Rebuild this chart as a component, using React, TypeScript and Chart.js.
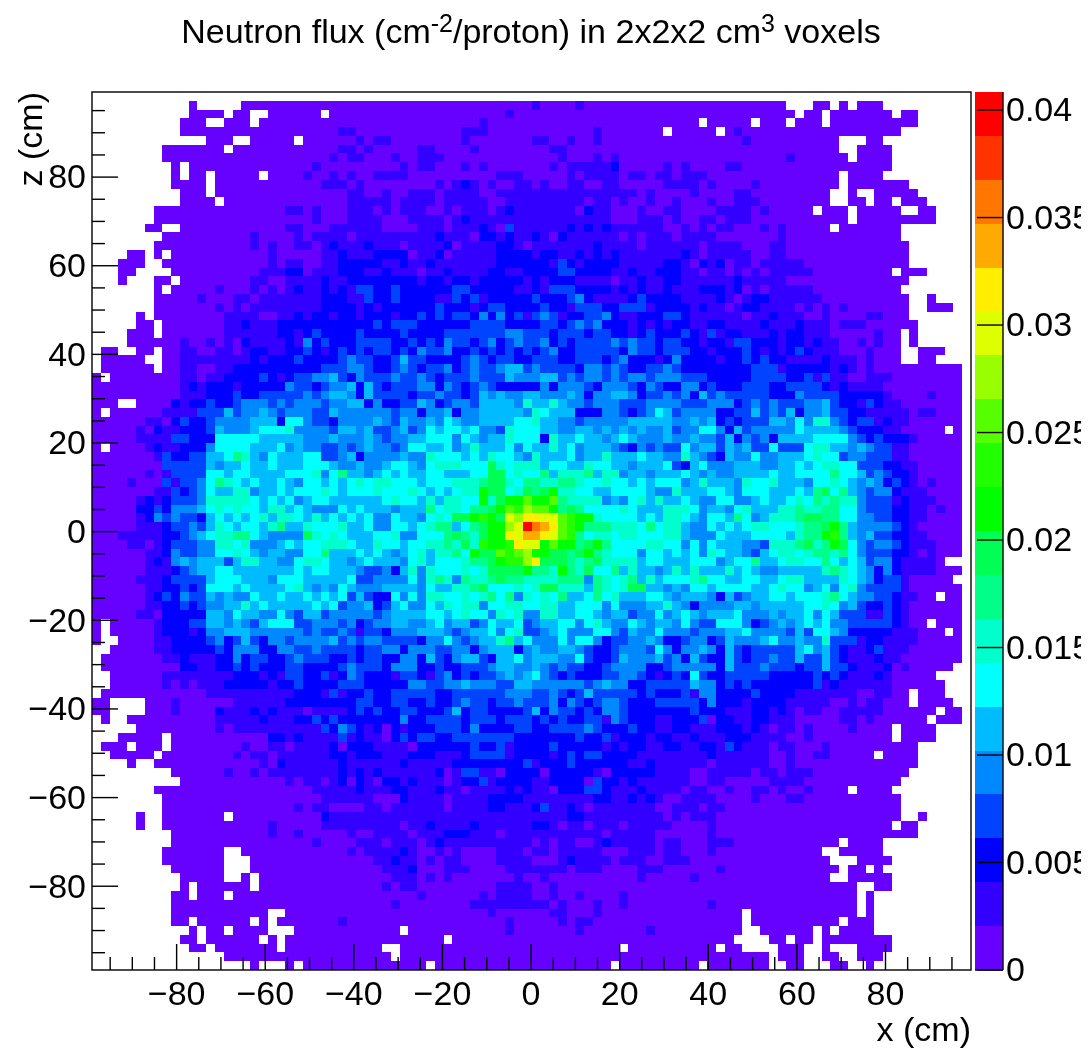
import React, { useEffect, useRef } from "react";
import { Chart, registerables } from "chart.js";

Chart.register(...registerables);

// Band code per voxel: "." = empty voxel, 0-9 then a-j = colour band from the bottom.
const fluxColsLeft = [
".................................",
"...........0.....0000000000000000",
"...........0000.00..000000.000000",
"..........000..000.00000000000000",
"..........00000000000000000011000",
".............000..00000.000000101",
"........0000000.00000000000011010",
"........0000000000000000000101100",
".........0.00000000000000" + "1" + "0000000",
".........0.00.00000.0000" + "100101001",
".........0000.0000000000001110100",
"..........000.000000000000000" + "1100",
"..........0000.000000000000001111",
".......00000000000000011010001110",
".......000000000000000000" + "10001111",
"......00..00000000000011000111111",
"........0000000000" + "100001011110111",
".......00000000000101001101211121",
"....00.0.00000000000" + "1000001121112",
"...000..000000000000" + "1011001122222",
"...00....0000000000" + "11122011122211",
"...0...00.00000000" + "110011112112222",
".......0.00000" + "1000101012112121332",
".......00000" + "100011011111112221132",
".......00000001010111111112222121",
".....0.00000000" + "111100112122122122",
".....00.0000000" + "112111" + "22222222222" + "3",
"....000.0000000" + "111111" + "22" + "1" + "2" + "3" + "2222" + "3" + "22",
"....000000" + "10010102" + "1111" + "21" + "42" + "3" + "222" + "333",
".00..00.00" + "1100110" + "1" + "22" + "11" + "22" + "3" + "2" + "1" + "2" + "3" + "2" + "3" + "2" + "3",
".00000..00" + "11111111" + "2" + "1" + "222" + "3" + "2222" + "3" + "4" + "33" + "2",
".000000.00" + "11" + "00" + "11" + "2222222222" + "333" + "44" + "3" + "2",
"0.00000000" + "11" + "0" + "11" + "2222" + "3" + "2" + "1" + "2" + "33" + "44" + "5" + "3" + "2" + "4" + "33",
"0000000000" + "1" + "2" + "1" + "222" + "1" + "22222" + "4" + "33" + "2" + "3" + "44" + "5" + "2" + "5" + "3",
"0000000000" + "111" + "222" + "3" + "22" + "33333" + "4" + "3" + "4" + "55" + "4" + "2" + "5" + "3",
"000..0000" + "2" + "1" + "22" + "3" + "22" + "3" + "444" + "3" + "4" + "3" + "444" + "3" + "44" + "55" + "2" + "4",
"0.000000" + "1111" + "333" + "5" + "3" + "44" + "5" + "4" + "3" + "444" + "33" + "5" + "44444",
"000000" + "11" + "0" + "2" + "3" + "22" + "3" + "4444" + "555" + "2" + "66" + "4" + "33" + "2" + "4444" + "5",
"00000" + "1" + "0" + "2" + "11" + "222" + "3" + "5" + "444" + "5" + "666" + "7" + "4444" + "3" + "55" + "4" + "5" + "3",
"00000" + "1111" + "33" + "222" + "66666" + "55555" + "444" + "5" + "444" + "5" + "4",
"0.0000" + "1" + "2" + "11" + "222" + "4" + "6666" + "555" + "6" + "4" + "5" + "44" + "33" + "4" + "3" + "4" + "5" + "4",
"0000000" + "1" + "3" + "22" + "33" + "55" + "6" + "8" + "7" + "5" + "4" + "6" + "555" + "66" + "33" + "4" + "5" + "2" + "44",
"00000000" + "33333" + "5" + "4" + "55" + "6" + "55" + "6" + "555" + "666" + "5" + "44" + "5" + "44",
"000000" + "1" + "0" + "1" + "3333" + "66" + "5" + "66" + "5555" + "666" + "7" + "4" + "6" + "8" + "55" + "4" + "5",
"0000" + "1" + "000" + "3" + "1" + "33" + "4" + "6" + "8" + "7" + "6" + "5" + "6" + "55" + "6" + "5" + "4" + "66" + "5" + "6" + "5" + "6" + "7" + "6" + "7",
"0000000" + "11" + "3" + "2" + "3" + "4" + "6" + "55" + "77" + "4" + "55" + "6" + "5" + "666" + "7" + "6" + "5" + "666" + "7",
"00000" + "1" + "2" + "1" + "2" + "333" + "4" + "77777" + "6" + "5" + "6" + "5" + "6" + "4" + "5" + "66" + "555555",
"00000" + "22" + "3" + "2" + "444" + "5" + "6" + "7" + "6" + "7" + "66" + "5" + "77" + "5" + "6" + "5" + "444" + "6" + "5" + "6" + "55",
"00000" + "1" + "2" + "4" + "3" + "4" + "33" + "2" + "5" + "6" + "5" + "6" + "5" + "6" + "7" + "5" + "77" + "6" + "5" + "7" + "5" + "6" + "5" + "6" + "5" + "6" + "4",
"00000" + "111" + "2" + "33" + "4" + "3" + "5" + "7" + "6" + "5" + "66" + "5" + "7" + "8" + "55" + "7" + "666" + "7" + "55" + "6" + "4",
"000" + "1111" + "1" + "22" + "3" + "4" + "5" + "6" + "77" + "88" + "6" + "5" + "4444" + "9" + "7" + "6" + "7" + "6" + "555" + "6",
"0000" + "11" + "0" + "1" + "2" + "333" + "44" + "77" + "6" + "7" + "444" + "5" + "6" + "5" + "66" + "777" + "6" + "55" + "7",
"000000" + "11" + "2" + "4" + "33" + "44" + "66" + "7" + "6" + "5" + "4" + "55" + "44" + "66" + "8" + "555" + "6" + "5" + "6",
"000000" + "1" + "2" + "1" + "4" + "5" + "4" + "555" + "3" + "5" + "77" + "55" + "44" + "6" + "77" + "6" + "55" + "4" + "5" + "6" + "5",
"000000" + "111" + "2" + "3" + "4" + "55" + "66" + "5555555" + "6" + "5" + "66" + "555" + "4" + "33",
"00000" + "111" + "2" + "3333" + "5" + "666" + "555" + "4" + "666" + "55555" + "6" + "33" + "4",
"000000" + "11" + "22" + "3" + "2" + "3" + "666" + "5" + "6" + "5555" + "6" + "7" + "5" + "4" + "5" + "4" + "6" + "5" + "444",
"000000" + "1" + "2" + "3" + "2" + "4" + "33" + "5" + "4" + "5" + "44" + "6" + "55" + "6" + "55" + "6" + "5" + "6" + "5" + "6" + "3" + "5" + "3" + "2",
"000000" + "11" + "22" + "3" + "2" + "3" + "44" + "55" + "7" + "5" + "6" + "55555" + "6" + "5" + "6" + "3" + "44" + "5" + "2",
"00000" + "11" + "0" + "22222" + "55" + "4" + "6" + "55" + "44" + "6" + "4" + "3" + "55" + "3" + "44444" + "3",
"0.00000" + "1" + "222" + "33" + "55" + "4" + "5" + "4" + "3" + "5" + "666" + "33" + "444" + "3" + "4" + "2" + "3" + "4",
"0.00000" + "1" + "222" + "1" + "2" + "44" + "555" + "444444" + "3" + "4" + "33" + "4" + "3" + "1" + "33",
"0..0000" + "11" + "2222" + "3" + "4" + "2" + "3" + "5" + "3" + "2" + "44" + "3" + "4444" + "5" + "3" + "4" + "3" + "44",
"..00000" + "11" + "22222" + "3" + "2" + "444" + "22" + "44" + "33" + "4" + "3333" + "2" + "33",
".0000000" + "11" + "2" + "111" + "22" + "4" + "2" + "33" + "22" + "3" + "4" + "333" + "22" + "3" + "2" + "33",
".000000000" + "22" + "11" + "22" + "3" + "2" + "3" + "222" + "33" + "2222" + "3" + "4" + "333",
"..000000" + "11111111" + "22" + "2" + "1" + "2" + "1" + "33" + "22" + "3" + "1" + "2" + "4" + "3" + "22",
"..000000" + "1" + "0" + "1" + "0" + "111" + "22222" + "1" + "22" + "3" + "2222" + "333" + "22",
".000000000000" + "1111111111" + "222" + "1" + "3" + "1" + "22" + "3" + "2",
"00....000" + "1" + "000000" + "111111" + "22222222" + "33" + "2",
"00....000" + "1" + "0000" + "2" + "111" + "2" + "1" + "2" + "111" + "0" + "1" + "111" + "2" + "3" + "2" + "3",
".0..0000000000" + "11111" + "2" + "111" + "22" + "3" + "2" + "3" + "22222",
".....000000000" + "1" + "0" + "1111111111" + "3" + "2" + "4" + "3" + "2" + "1" + "2",
"...00000.00000000000" + "22" + "1" + "2" + "111" + "1" + "3" + "1" + "2" + "11",
".000.000.00000000" + "1" + "00" + "11" + "0" + "1111" + "2" + "0" + "222" + "1",
"..00000.00000000" + "1" + "0" + "11" + "0" + "111111" + "22" + "1" + "222",
"....0..000000000000" + "1" + "0" + "2" + "111111" + "2" + "1111",
".........000000" + "1" + "00" + "1" + "0" + "11111111" + "2" + "1" + "2" + "1" + "2",
"..........000000000000" + "1" + "0" + "11" + "0" + "1" + "2" + "0" + "2" + "1" + "0",
".......000000000000000000" + "11111" + "2" + "11",
"........000000000000000000" + "111111" + "0",
"........000000000000000" + "1" + "0" + "11" + "0000" + "11",
".....0..0000000.0000000000" + "2" + "111111",
".....0..000000000000" + "1" + "00000" + "1111111",
".........00000000000" + "1" + "00" + "1" + "00000" + "1" + "00" + "1",
".........0000000000000000" + "1" + "0000" + "111",
"........0000000..000000000000" + "1" + "0" + "11",
"........0000000...00000000000000" + "1",
".........000000...000000000000000",
"..........00000..0.00000000000000",
"..........0.000000.00000000000000",
".........00.000.00000000000000000",
".........000000000000000000000000",
".........00000000000..00000000000",
".........00.000000.0.0000000" + "1" + "0000",
"...........0.00.0000...0000000000",
"..........00.000000.0.00000000000",
"...........00.0000000.00000000000",
"...............000000000000000000",
"..................0...0.000000000",
];

const fluxColsMiddle = [
"..................................",
"00000000000000000" + "1" + "0000" + "1" + "00000000000",
"00000000000000" + "1" + "0000000000000000000",
"00000000000" + "1" + "0000000000000000000000",
"000000000" + "111" + "000000000000" + "1" + "0000000" + "." + "0",
"1" + "00000000" + "1" + "0000000" + "11" + "00" + "1" + "00" + "1" + "000000000",
"0000" + "11" + "0000" + "1" + "00000000" + "11" + "0000000000000",
"0" + "1" + "00" + "111" + "0000000000000" + "1" + "000" + "1" + "0" + "1" + "0000000",
"00" + "1" + "0" + "11" + "000" + "1" + "0" + "1" + "0000000" + "1" + "0" + "11111" + "2" + "00000" + "1" + "0",
"111" + "0000000000" + "111" + "00000" + "1" + "0" + "1111" + "0" + "11" + "0" + "11" + "0",
"000000" + "1" + "0" + "1" + "2" + "1" + "0" + "1" + "00" + "11" + "0" + "1" + "00" + "11" + "00" + "11" + "00000" + "11",
"1" + "00" + "111" + "0" + "1111" + "00" + "1111111111111111" + "0" + "1" + "000",
"1" + "0" + "1111" + "0" + "11111" + "00" + "111111111" + "0" + "11" + "0" + "1" + "00" + "1" + "00" + "1",
"1" + "0" + "111" + "00" + "1" + "0" + "111" + "0" + "1" + "2" + "1111111" + "0" + "2" + "11" + "000" + "1" + "00" + "11",
"000" + "1111" + "0" + "1" + "2" + "1111111111111111" + "000" + "111" + "0" + "1",
"0000" + "111" + "0" + "111" + "2" + "1" + "0" + "3" + "1111" + "11" + "2" + "1" + "2" + "1" + "2" + "111111" + "00",
"111111" + "2" + "111" + "0" + "22" + "1" + "2" + "11" + "2" + "1" + "0" + "2" + "111111" + "0" + "1" + "0" + "111" + "0",
"11" + "0" + "1111" + "2" + "0" + "1111" + "22" + "1" + "0" + "1111111" + "2" + "1111" + "0" + "1111",
"222" + "0" + "11" + "2" + "0" + "11111" + "2222" + "1" + "22" + "11" + "2" + "1" + "2" + "1" + "2" + "1111111",
"11" + "2" + "11" + "2" + "1111111" + "222222" + "1" + "3" + "2" + "1" + "2222" + "11111" + "22",
"2" + "111" + "0" + "11" + "2" + "1111" + "22" + "11" + "2222" + "33" + "2222" + "11" + "2" + "11" + "222",
"2222" + "1" + "22" + "1" + "22" + "1" + "22222" + "1" + "2" + "1" + "222" + "1111" + "0" + "11" + "2" + "11" + "22",
"2" + "3" + "222222" + "33" + "22222" + "11" + "2" + "1" + "333" + "2222" + "1" + "2" + "1" + "2" + "11" + "2" + "1",
"2" + "3" + "2222" + "11" + "3" + "2" + "3" + "1" + "22222" + "3" + "222" + "3" + "4" + "2" + "1111" + "2" + "3" + "2222",
"222222" + "3" + "222" + "1" + "2" + "33" + "2222" + "3" + "22" + "1" + "333" + "22" + "333" + "1" + "222",
"2" + "1" + "22" + "3" + "2" + "3" + "2" + "33" + "2" + "4" + "2" + "4" + "2" + "3" + "1" + "3" + "4" + "3" + "1" + "22" + "33" + "4" + "2" + "11" + "222" + "33",
"2" + "333" + "222222" + "3333" + "2222" + "33" + "2" + "3" + "4" + "3" + "4" + "222" + "1" + "2" + "1" + "2" + "1" + "2",
"22" + "3" + "2222" + "3333333" + "44" + "333" + "2" + "333" + "2" + "33" + "22" + "1" + "2" + "3" + "222",
"3" + "22" + "3" + "2" + "3" + "2" + "4" + "33" + "2" + "3" + "4" + "2" + "3" + "4" + "33" + "4" + "2" + "3" + "2" + "3333" + "4" + "3" + "4" + "33" + "2" + "33",
"3" + "2" + "3" + "2" + "4" + "33" + "4" + "22" + "3" + "2" + "3" + "2" + "3" + "2" + "3" + "2" + "3" + "4" + "22" + "33333" + "2" + "4" + "33" + "2" + "33",
"2" + "3" + "5" + "33" + "2222" + "3" + "4" + "3" + "2" + "33" + "22" + "333" + "22" + "333" + "2" + "3" + "4" + "222" + "1" + "2" + "4",
"2" + "3" + "4" + "3" + "2" + "33" + "4" + "2" + "3" + "4" + "33" + "4" + "55" + "3" + "4" + "3333" + "2" + "44" + "3" + "4" + "3" + "22" + "33" + "4" + "3",
"3" + "4" + "33" + "4" + "3" + "2" + "333" + "4" + "333" + "5" + "444" + "55" + "3" + "4" + "3" + "44" + "3" + "4" + "3" + "44" + "3" + "444",
"2333442432"+"3432222242"+"4443244432"+"4322",
"3332334332"+"3545445544"+"4542445542"+"3343",
"2233542344"+"3555547557"+"5443444333"+"4444",
"4344244524"+"4555554765"+"5522244323"+"4653",
"4354454654"+"4555566755"+"4434444455"+"5554",
"3453465665"+"6443766655"+"4455454545"+"4453",
"3445566646"+"5455766627"+"5565545654"+"4454",
"4346655645"+"7555646557"+"5645554324"+"3433",
"4454476665"+"6576654755"+"5645575556"+"5544",
"5665467776"+"6697677756"+"6557665545"+"5563",
"6565566555"+"6699676685"+"7778577455"+"4555",
"7666566677"+"7899768877"+"8876676656"+"5666",
"6667656567"+"7a9967989a"+"7766556666"+"5447",
"6766575776"+"6a79aacaac"+"8777745467"+"5755",
"5455586776"+"889acbdcca"+"8986666765"+"5577",
"4655467699"+"aba9edffee"+"cbaa766665"+"6577",
"4665678856"+"89aadejhgf"+"cba8887776"+"8677",
"6744666898"+"79aafeggfe"+"cb86776776"+"6677",
"6656677879"+"7baabfeeac"+"aa89a86666"+"7766",
"5456757786"+"a99cbcdaa9"+"989a876664"+"6656",
"5546756667"+"889abbdf99"+"9878977775"+"6655",
"4257476667"+"679999a887"+"a879668575"+"5457",
"4446478748"+"7789887777"+"8884876785"+"7566",
"5555465577"+"8966676799"+"7775876799"+"5545",
"2646477667"+"6786847676"+"8556867555"+"6654",
"3564465767"+"7466776677"+"5566646444"+"5575",
"4555566567"+"6647674477"+"5566545534"+"4645",
"4554456455"+"3465563455"+"6646754465"+"4554",
"2444555434"+"5564673345"+"6444664354"+"4644",
"3333244643"+"4557856444"+"6466423344"+"5422",
"4424443344"+"2455524544"+"5543223444"+"3642",
"2244253245"+"5325564555"+"4463223544"+"4534",
"2444223223"+"3345544543"+"4332234444"+"2234",
"2133213423"+"2334545643"+"2322233443"+"2123",
"2224433445"+"4443355444"+"4443454422"+"3333",
"2333332233"+"3333444334"+"3235333332"+"3222",
"2332232234"+"3323343334"+"2432344322"+"2333",
"2233222352"+"3322223524"+"3323244322"+"2222",
"2242233332"+"3332333232"+"3223314322"+"2112",
"0212223332"+"4222233223"+"3334322232"+"2112",
"0232332233"+"3333322222"+"2232231222"+"1221",
"1110222222"+"3223122223"+"2222212122"+"1122",
"1112221112"+"3333122221"+"2323322221"+"1111",
"1121111122"+"2222223122"+"2322222211"+"2111",
"1111112013"+"3110222202"+"2222102222"+"2111",
"2212111012"+"2312222112"+"2220322121"+"1111",
"1221112110"+"1111212110"+"2223321112"+"1111",
"0021111011"+"1122221111"+"1111221121"+"2100",
"0111111011"+"1122111231"+"1210111111"+"1001",
"1111111111"+"1111111111"+"1221111111"+"1101",
"1101121111"+"2111111221"+"0110111011"+"1110",
"1110111222"+"1110111111"+"1111101111"+"1000",
"0111012111"+"1111111010"+"1100121111"+"1011",
"1121001010"+"0001110110"+"1111100011"+"1011",
"1211010110"+"0001111000"+"1211110111"+"0011",
"1112000111"+"0000111111"+"1011100001"+"1100",
"0111010100"+"0000010010"+"0000000001"+"0000",
"1011000000"+"0001111001"+"0000000000"+"0000",
"0000100000"+"0101111001"+"0010000100"+"0000",
"0100000000"+"1111111110"+"1000100100"+"0000",
"0000000000"+"0010000001"+"1000100000"+"0000",
"0000000000"+"0000100000"+"1011000000"+"0000",
"00.0000000"+"0000100000"+"0010000000"+"1000",
"0000000.00"+"0000000000"+"0000000000"+"0000",
"..00000000"+"0000000000"+"0000000.00"+"0000",
"0.00000000"+"0000000000"+"0000000000"+"0000",
"00000.0000"+"0000000000"+"000000.000"+"0000",
];

const fluxColsRight = [
".................................",
"000000000000" + "..." + "00" + "." + "0" + "." + "000" + "..........",
"0000000000000.00.0000000.00......",
"00.00000.000.000.0000000000......",
"0000.01" + "000000000000000000" + "........",
"0000000" + "1" + "0000000000" + "..." + "00" + "..........",
"000000000000000000" + ".." + "0000" + ".........",
"000000000000" + "1" + "000000" + "." + "0000" + ".........",
"1" + "0000" + "11" + "00000000000000000" + ".........",
"111" + "000000000000000" + "." + "0000" + "..........",
"11" + "0" + "1" + "0000" + "1" + "000000000" + "." + "0000000" + ".......",
"0" + "1" + "0000" + "11" + "000000000" + ".." + "0" + ".." + "00000" + "......",
"000" + "1" + "00" + "111" + "00000000" + ".." + "00" + "." + "00" + "." + "000" + ".....",
"0000" + "1111" + "0" + "1" + "00000" + "." + "000" + "." + "00000" + ".." + "00" + "....",
"00" + "11" + "0" + "111" + "00000000000" + "." + "000000000" + "....",
"1010" + "11" + "000" + "1" + "0" + "1" + "00000" + "." + "0000000" + "........",
"1111" + "0000000" + "1" + "0000000000000" + "........",
"11" + "0" + "1111" + "000" + "11" + "00000000000000" + ".......",
"2" + "1" + "0" + "11111" + "00" + "11" + "00000000000000" + ".......",
"1" + "0" + "2" + "1" + "2" + "0" + "11" + "0" + "11111" + "000000000000" + ".......",
"11" + "0" + "11" + "0" + "1" + "0" + "1" + "0" + "11111" + "000000000" + "." + "000" + ".....",
"111111" + "2" + "11111" + "00000000000000" + ".......",
"11" + "222" + "1" + "2" + "0" + "1" + "0" + "11111" + "0000000000" + "........",
"1111" + "2" + "1" + "0" + "1" + "22" + "111111" + "0000000000" + ".." + "0" + "....",
"2" + "1" + "2" + "11" + "0" + "1" + "22" + "1111" + "0" + "1" + "0" + "1" + "0" + "1" + "0000000" + ".." + "000" + "..",
"2" + "111111" + "0" + "11" + "2" + "111" + "00" + "1" + "0000" + "11" + "000" + ".......",
"2" + "11" + "22" + "1111" + "2" + "111" + "2" + "111" + "0" + "111" + "000000" + "......",
"3" + "2" + "1" + "3" + "1" + "22" + "111" + "2" + "1" + "22" + "111" + "00000" + "1" + "00" + "." + "0" + "......",
"22" + "1" + "22" + "1" + "33" + "222" + "1" + "22" + "1" + "2" + "11" + "00" + "1" + "0" + "1" + "00" + "." + "0" + "......",
"3221222321212321110001000..000...",
"2222122323221111211101000..00....",
"22222222"+"333"+"1"+"22222"+"1"+"2"+"1"+"0"+"1"+"0000000000"+".",
"333"+"22222"+"3333"+"22"+"3"+"1"+"3"+"11"+"00"+"111"+"00000000"+".",
"44232223332233332121111"+"000000000"+".",
"42534"+"33333"+"22243"+"33322"+"22210"+"00010"+"00"+".",
"33344"+"42343"+"43334"+"45322"+"13211"+"00000"+"00"+".",
"44442"+"23353"+"43524"+"45332"+"21111"+"10110"+"00"+".",
"45452"+"32333"+"55464"+"77432"+"33121"+"10000"+"00"+".",
"44664"+"25344"+"44465"+"55543"+"22211"+"00000"+".0"+".",
"45443"+"52434"+"25555"+"66664"+"32322"+"21000"+"00"+".",
"64553"+"54533"+"63336"+"77554"+"54331"+"10000"+"00"+".",
"75432"+"54464"+"45556"+"76634"+"43331"+"10000"+"00"+".",
"25644"+"45554"+"45565"+"67766"+"33322"+"11000"+"00"+".",
"65454"+"45555"+"65566"+"66866"+"53432"+"21000"+"00"+".",
"45755"+"54766"+"75554"+"66765"+"45423"+"21010"+"00"+".",
"55566"+"54666"+"55565"+"89685"+"43442"+"11100"+"00"+".",
"65446"+"64456"+"55676"+"87877"+"43331"+"21110"+"00"+".",
"76455"+"46755"+"57787"+"78866"+"43332"+"21101"+"00"+".",
"65466"+"58645"+"77789"+"98866"+"44332"+"21100"+"00"+".",
"54465"+"65677"+"66678"+"89a85"+"44443"+"21000"+"00"+".",
"54446"+"55566"+"66578"+"8ab85"+"45332"+"21100"+"00"+".",
"46465"+"55443"+"77789"+"78a96"+"43443"+"21110"+"00"+".",
"56476"+"55435"+"67767"+"88786"+"43332"+"21010"+"00"+".",
"56664"+"56685"+"56776"+"68656"+"53442"+"11110"+".."+".",
"57555"+"75654"+"45555"+"57876"+"54242"+"11110"+"00"+".",
"67866"+"55665"+"56775"+"55576"+"54233"+"10000"+"0."+".",
"46656"+"66655"+"67664"+"56467"+"43333"+"10000"+"00"+".",
"55542"+"53455"+"66566"+"67865"+"44332"+"1100."+"00"+".",
"42444"+"45545"+"55556"+"67645"+"32232"+"10000"+"00"+".",
"65455"+"56444"+"54556"+"46533"+"31132"+"10000"+"00"+".",
"64336"+"66423"+"45456"+"56443"+"33332"+"100.0"+"00"+".",
"43444"+"55644"+"44353"+"66542"+"22221"+"11000"+".0"+".",
"34423"+"54445"+"64454"+"47333"+"12211"+"11000"+"00"+".",
"44542"+"53233"+"33356"+"45321"+"12311"+"10000"+"00"+".",
"25322"+"53233"+"43353"+"35321"+"11211"+"00000"+"00"+".",
"44442"+"53334"+"33323"+"35332"+"11120"+"10000"+"0."+".",
"26322"+"33333"+"22222"+"32321"+"11210"+"0000."+".."+".",
"35442"+"32322"+"22222"+"31211"+"11110"+"00000"+".."+".",
"31442"+"22232"+"22211"+"11111"+"00110"+"0.000"+".."+".",
"33242"+"22122"+"22111"+"11001"+"01100"+"0.000"+"0."+".",
"23222"+"11122"+"12101"+"10011"+"11100"+"0000."+"00"+".",
"22302"+"21122"+"11100"+"00011"+"01000"+"000.0"+"00"+".",
"21112"+"22121"+"01101"+"00001"+"0000."+"0000."+".."+".",
"12111"+"22211"+"11001"+"00000"+"0000."+"0000."+".."+".",
"11221"+"32111"+"01100"+"01000"+"00000"+"00..."+".."+".",
"11121"+"11111"+"00100"+"11000"+"00.00"+"00..."+".."+".",
"11101"+"11111"+"00100"+"00000"+"00000"+"00..."+".."+".",
"10011"+"11101"+"10111"+"00000"+"00000"+"0...."+".."+".",
"10011"+"00000"+"11110"+"00000"+"00000"+"....."+".."+".",
"01100"+"10011"+"01001"+"0000."+"0000."+"....."+".."+".",
"11110"+"00010"+"00110"+"00000"+"00000"+"....."+".."+".",
"11011"+"00000"+"00000"+"00000"+"00000"+"....."+".."+".",
"01110"+"00000"+"00000"+"00000"+"00000"+"..0.."+".."+".",
"00010"+"00000"+"00000"+"00000"+"0000."+"00..."+".."+".",
"00010"+"00000"+"00000"+"00000"+"00000"+"00..."+".."+".",
"00011"+"10000"+"00000"+"000.0"+"000.."+"....."+".."+".",
"00010"+"00000"+"00000"+"0..00"+"000.."+"....."+".."+".",
"10000"+"00000"+"00000"+"00..."+"0000."+"....."+".."+".",
"00001"+"00000"+"00000"+"000.0"+"0.0.."+"....."+".."+".",
"01000"+"00000"+"00000"+"00..0"+"0000."+"....."+".."+".",
"00000"+"00000"+"00000"+"00000"+"..00."+"....."+".."+".",
"00000"+"00000"+"00000"+"00000"+".0..."+"....."+".."+".",
"00010"+"00000"+"00000"+"00000"+".0..."+"....."+".."+".",
"00000"+"00.00"+"00000"+"00000"+".0..."+"....."+".."+".",
"00000"+"00.00"+"00000"+"000.0"+"00..."+"....."+".."+".",
"00000"+"00..0"+"00000"+".0.00"+"00..."+"....."+".."+".",
"00000"+"0...."+"00.00"+".0000"+"0000."+"....."+".."+".",
"0000."+"00..."+".000."+".0..."+"0000."+"....."+".."+".",
"00000"+"00000"+".000."+".00.."+"000.."+"....."+".."+".",
"00.00"+"00000"+"..00."+"..00."+".0..."+"....."+".."+".",
];

const bandCodes = "0123456789abcdefghij";
const bandColors = [
  "#6600ff","#3300ff","#0000ff","#0044ff","#0088ff","#00bbff","#00ffff","#00ffcc","#00ff88","#00ff55",
  "#00ff00","#22ff00","#55ff00","#99ff00","#ddff00","#ffee00","#ffaa00","#ff7700","#ff3300","#ff0000",
];
const fluxMax = 0.04084;
const xRange = [-99.1, 99.3];
const zRange = [-98.9, 99.2];
const xTickValues = [-80, -60, -40, -20, 0, 20, 40, 60, 80];
const colorTickValues = [0, 0.005, 0.01, 0.015, 0.02, 0.025, 0.03, 0.035, 0.04];
const titleParts: [string, boolean][] = [
  ["Neutron flux (cm", false], ["-2", true], ["/proton) in 2x2x2 cm", false], ["3", true], [" voxels", false],
];
const xAxisTitle = "x (cm)";
const zAxisTitle = "z (cm)";

const FONT = '"Liberation Sans", Arial, sans-serif';
const FS = 34;
const SUP = 25;

const cellW = (xRange[1] - xRange[0]) / 100;
const cellH = (zRange[1] - zRange[0]) / 100;

type Cell = { x: number; y: number; v: number };

function buildCells(): Cell[] {
  const bandWidth = fluxMax / bandColors.length;
  const out: Cell[] = [];
  for (let r = 0; r < 100; r++) {
    const line =
      (fluxColsLeft[r] || "").padEnd(33, ".").slice(0, 33) +
      (fluxColsMiddle[r] || "").padEnd(34, ".").slice(0, 34) +
      (fluxColsRight[r] || "").padEnd(33, ".").slice(0, 33);
    for (let c = 0; c < 100; c++) {
      const band = bandCodes.indexOf(line[c]);
      if (band >= 0) out.push({ x: xRange[0] + (c + 0.5) * cellW, y: zRange[1] - (r + 0.5) * cellH, v: (band + 0.5) * bandWidth });
    }
  }
  return out;
}

const fmtAxis = (v: number) => (v < 0 ? "\u2212" + Math.abs(v) : String(v));

const voxelPlugin = {
  id: "voxels",
  afterDatasetsDraw(chart: any) {
    const { ctx, scales } = chart;
    const { x, y, c } = scales;
    const bandWidth = fluxMax / bandColors.length;
    const data = chart.data.datasets[0].data as Cell[];
    ctx.save();
    for (const d of data) {
      const band = Math.min(bandColors.length - 1, Math.floor(d.v / bandWidth));
      const l = Math.round(x.getPixelForValue(d.x - cellW / 2));
      const r = Math.round(x.getPixelForValue(d.x + cellW / 2));
      const t = Math.round(y.getPixelForValue(d.y + cellH / 2));
      const b = Math.round(y.getPixelForValue(d.y - cellH / 2));
      ctx.fillStyle = bandColors[band];
      ctx.fillRect(l, t, r - l, b - t);
    }
    // colour bar
    const barL = chart.chartArea.right + 4;
    const barR = chart.chartArea.right + 32;
    bandColors.forEach((col, i) => {
      const t = Math.round(c.getPixelForValue((i + 1) * bandWidth));
      const b = Math.round(c.getPixelForValue(i * bandWidth));
      ctx.fillStyle = col;
      ctx.fillRect(barL, t, barR - barL, b - t);
    });
    ctx.strokeStyle = "#000";
    ctx.lineWidth = 1.4;
    const line = (a: number, b: number, e: number, f: number) => {
      ctx.beginPath();
      ctx.moveTo(a, b);
      ctx.lineTo(e, f);
      ctx.stroke();
    };
    const { left, right, top, bottom } = chart.chartArea;
    ctx.strokeRect(left, top, right - left, bottom - top);
    line(barR, top, barR, bottom);
    line(barL, bottom, barR, bottom);
    for (let v = -95; v <= 95; v += 5) {
      const len = v % 20 === 0 ? 26 : 13;
      const px = x.getPixelForValue(v);
      const py = y.getPixelForValue(v);
      line(px, bottom, px, bottom - len);
      line(left, py, left + len, py);
    }
    colorTickValues.forEach((v) => {
      const py = c.getPixelForValue(v);
      line(barR, py, barR - 26, py);
    });
    // title with superscripts
    let w = 0;
    titleParts.forEach(([s, sup]) => {
      ctx.font = `${sup ? SUP : FS}px ${FONT}`;
      w += ctx.measureText(s).width;
    });
    let tx = 523 - w / 2;
    ctx.fillStyle = "#000";
    ctx.textBaseline = "alphabetic";
    ctx.textAlign = "left";
    titleParts.forEach(([s, sup]) => {
      ctx.font = `${sup ? SUP : FS}px ${FONT}`;
      ctx.fillText(s, tx, sup ? 24 : 35);
      tx += ctx.measureText(s).width;
    });
    ctx.restore();
  },
};

export default function App() {
  const ref = useRef<HTMLCanvasElement>(null);
  useEffect(() => {
    const font = { family: FONT, size: FS };
    const setTicks = (values: number[]) => (s: any) => {
      s.ticks = values.map((value) => ({ value }));
    };
    const chart = new Chart(ref.current as HTMLCanvasElement, {
      type: "scatter",
      data: { datasets: [{ label: "flux", data: buildCells() as any, pointRadius: 0, pointHoverRadius: 0 }] },
      options: {
        responsive: false,
        animation: false,
        events: [],
        layout: { padding: { top: 84, left: 0, right: 0, bottom: 0 } },
        plugins: { legend: { display: false }, tooltip: { enabled: false } },
        scales: {
          x: {
            type: "linear", position: "bottom", min: xRange[0], max: xRange[1],
            grid: { display: false, drawTicks: false }, border: { display: false },
            afterBuildTicks: setTicks(xTickValues),
            ticks: {
              autoSkip: false, maxRotation: 0, padding: 5, color: "#000", font,
              callback: (v: any) => fmtAxis(v),
            },
            title: { display: true, text: xAxisTitle, align: "end", color: "#000", font, padding: { top: 0, bottom: 0 } },
            afterFit: (s: any) => { s.height = 82; },
          },
          y: {
            type: "linear", position: "left", min: zRange[0], max: zRange[1],
            grid: { display: false, drawTicks: false }, border: { display: false },
            afterBuildTicks: setTicks(xTickValues),
            ticks: {
              autoSkip: false, padding: 6, labelOffset: 2, color: "#000", font,
              callback: (v: any) => fmtAxis(v),
            },
            title: { display: true, text: zAxisTitle, align: "end", color: "#000", font, padding: { top: 4, bottom: 0 } },
            afterFit: (s: any) => { s.width = 84; },
          },
          c: {
            type: "linear", position: "right", min: 0, max: fluxMax,
            grid: { display: false, drawTicks: false }, border: { display: false },
            afterBuildTicks: setTicks(colorTickValues),
            ticks: {
              autoSkip: false, padding: 35, labelOffset: 2, color: "#000", font,
              crossAlign: "near",
              callback: (v: any) => String(+Number(v).toFixed(3)),
            },
            afterFit: (s: any) => { s.width = 110; },
          },
        },
      } as any,
      plugins: [voxelPlugin],
    });
    return () => chart.destroy();
  }, []);
  return <canvas ref={ref} width={1073} height={1044} style={{ display: "block", width: 1073, height: 1044 }} />;
}
